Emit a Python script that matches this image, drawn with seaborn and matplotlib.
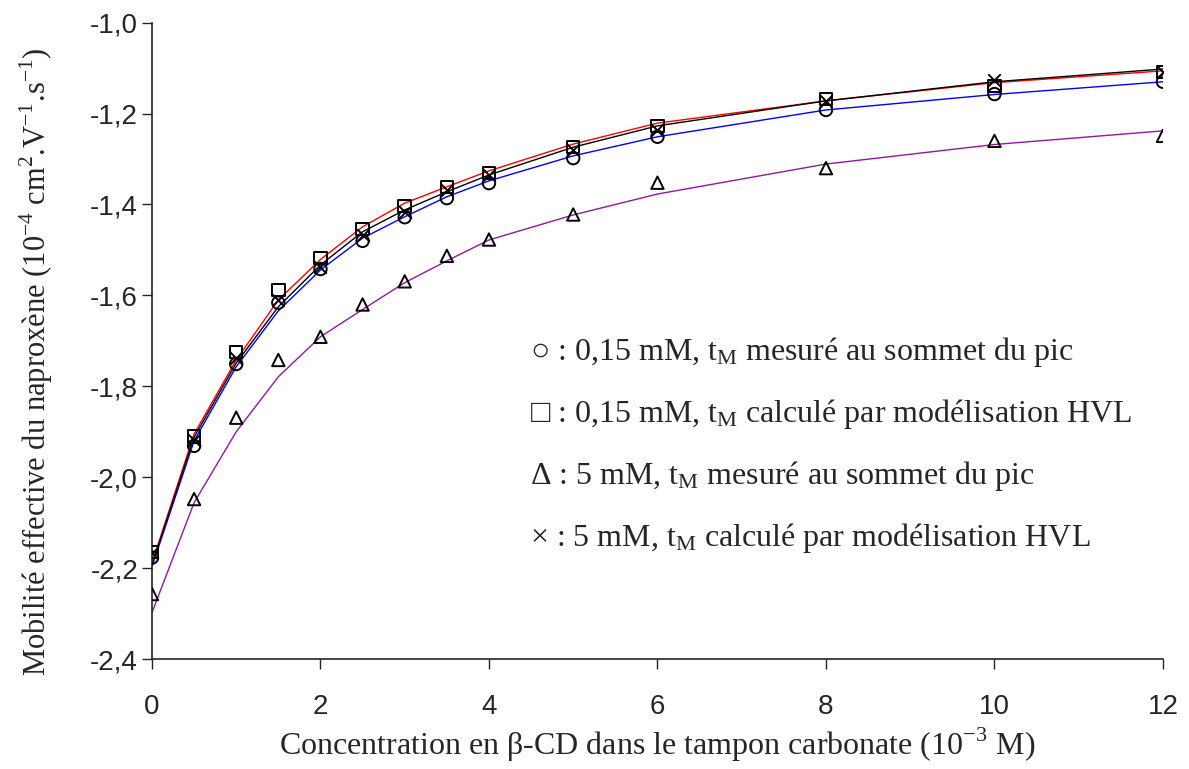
import numpy as np
import pandas as pd
import matplotlib
matplotlib.use('Agg')
import matplotlib.pyplot as plt
import seaborn as sns

# concentrations of beta-CD (10^-3 M)
conc = [0, 0.5, 1, 1.5, 2, 2.5, 3, 3.5, 4, 5, 6, 8, 10, 12]

# measured points
circ_015_peak = [-2.177, -1.931, -1.751, -1.616, -1.542, -1.480, -1.428, -1.386, -1.353, -1.298, -1.251, -1.192, -1.157, -1.130]
sq_015_hvl = [-2.165, -1.910, -1.724, -1.588, -1.518, -1.454, -1.403, -1.361, -1.331, -1.273, -1.227, -1.168, -1.139, -1.108]
tri_5_peak = [-2.257, -2.048, -1.869, -1.742, -1.691, -1.620, -1.569, -1.513, -1.477, -1.422, -1.352, -1.320, -1.260, -1.249]
x_5_hvl = [-2.166, -1.918, -1.738, -1.610, -1.537, -1.467, -1.417, -1.368, -1.335, -1.280, -1.236, -1.172, -1.126, -1.108]

# fitted curves (at the same concentrations)
fit_blue = [-2.197, -1.920, -1.757, -1.634, -1.544, -1.474, -1.427, -1.383, -1.348, -1.293, -1.251, -1.192, -1.158, -1.130]
fit_red = [-2.189, -1.905, -1.742, -1.610, -1.521, -1.449, -1.397, -1.361, -1.326, -1.267, -1.221, -1.172, -1.132, -1.106]
fit_black = [-2.193, -1.912, -1.749, -1.625, -1.533, -1.460, -1.412, -1.372, -1.335, -1.274, -1.227, -1.172, -1.130, -1.102]
fit_purple = [-2.298, -2.056, -1.900, -1.779, -1.691, -1.631, -1.572, -1.524, -1.478, -1.423, -1.377, -1.311, -1.268, -1.238]

xticks = [0, 2, 4, 6, 8, 10, 12]
yticks = [-2.4, -2.2, -2.0, -1.8, -1.6, -1.4, -1.2, -1.0]
ytick_labels = ['-2,4', '-2,2', '-2,0', '-1,8', '-1,6', '-1,4', '-1,2', '-1,0']

legend_lines = [
    '\u25cb : 0,15 mM, $\\mathregular{t_M}$ mesuré au sommet du pic',
    '\u25a1 : 0,15 mM, $\\mathregular{t_M}$ calculé par modélisation HVL',
    '\u0394 : 5 mM, $\\mathregular{t_M}$ mesuré au sommet du pic',
    '\u00d7 : 5 mM, $\\mathregular{t_M}$ calculé par modélisation HVL',
]

sns.set_style('ticks')
plt.rcParams['font.family'] = ['Liberation Serif', 'DejaVu Serif']
plt.rcParams['mathtext.fontset'] = 'custom'
plt.rcParams['mathtext.rm'] = 'Liberation Serif'

fits = pd.DataFrame({'conc': conc * 4,
                     'mob': fit_blue + fit_red + fit_black + fit_purple,
                     'curve': ['blue'] * 14 + ['red'] * 14 + ['black'] * 14 + ['purple'] * 14})

fig = plt.figure(figsize=(11.89, 7.69), dpi=100)
ax = fig.add_axes([0.1278, 0.143, 0.8503, 0.8275])

sns.lineplot(data=fits, x='conc', y='mob', hue='curve', estimator=None, sort=False,
             palette={'blue': '#0000ff', 'red': '#ff0000', 'black': '#000000', 'purple': '#8e1a9e'},
             linewidth=1.0, legend=False, ax=ax)

sns.scatterplot(x=conc, y=circ_015_peak, marker='o', s=80, facecolor='none', edgecolor='black', linewidth=1.4, ax=ax, zorder=3)
sns.scatterplot(x=conc, y=sq_015_hvl, marker='s', s=80, facecolor='none', edgecolor='black', linewidth=1.4, ax=ax, zorder=3)
sns.scatterplot(x=conc, y=tri_5_peak, marker='^', s=80, facecolor='none', edgecolor='black', linewidth=1.4, ax=ax, zorder=3)
sns.scatterplot(x=conc, y=x_5_hvl, marker='x', s=80, color='black', linewidth=1.4, ax=ax, zorder=3)

ax.set_xlim(0, 12)
ax.set_ylim(-2.4, -1.0)
ax.set_xticks(xticks)
ax.set_xticklabels([str(t) for t in xticks], family='Liberation Sans', fontsize=20)
ax.set_yticks(yticks)
ax.set_yticklabels(ytick_labels, family='Liberation Sans', fontsize=20)
ax.tick_params(axis='y', direction='out', length=7, width=1, pad=3)
ax.tick_params(axis='x', direction='out', length=7, width=1, pad=18)
sns.despine(ax=ax)
for sp in ['left', 'bottom']:
    ax.spines[sp].set_linewidth(1.2)

ax.set_xlabel('Concentration en \u03b2-CD dans le tampon carbonate (10$^{\\mathregular{-3}}$ M)', fontsize=23, labelpad=4)
ax.set_ylabel('Mobilité effective du naproxène (10$^{\\mathregular{-4}}$ cm$^{\\mathregular{2}}$.V$^{\\mathregular{-1}}$.s$^{\\mathregular{-1}}$)', fontsize=22)
ax.yaxis.set_label_coords(-0.096, 0.467)

for i, txt in enumerate(legend_lines):
    ax.text(0.374, 0.483 - i * 0.0974, txt, transform=ax.transAxes, fontsize=23, va='center', ha='left')

fig.savefig('out.png', dpi=100)
